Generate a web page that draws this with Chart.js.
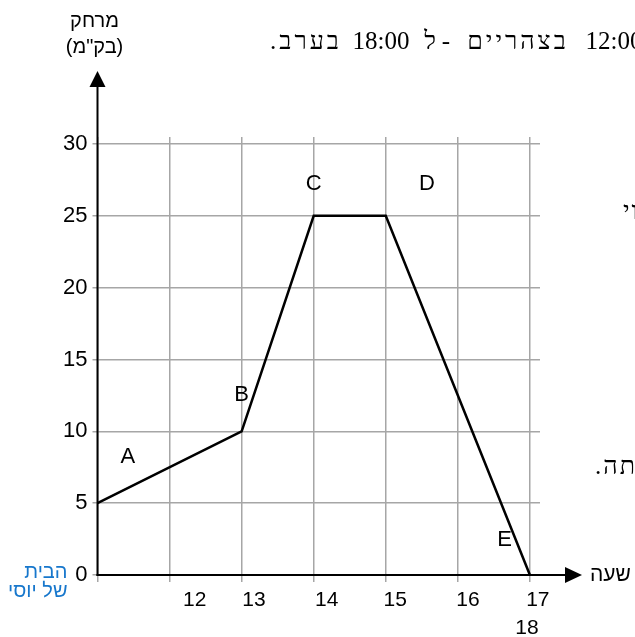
<!DOCTYPE html>
<html><head><meta charset="utf-8">
<style>html,body{margin:0;padding:0;background:#fff;overflow:hidden}canvas{display:block}</style>
<script src="https://cdn.jsdelivr.net/npm/chart.js@4.4.1/dist/chart.umd.min.js"></script>
</head><body>
<canvas id="c" width="635" height="637"></canvas>
<script>
// ---- data ----
const hours = [11, 13, 14, 15, 17];
const distances = [5, 10, 25, 25, 0];
const gridHours = [11, 12, 13, 14, 15, 16, 17];
const yTicks = [0, 5, 10, 15, 20, 25, 30];
const hourLabels = ['12', '13', '14', '15', '16', '17'];
const hourLabelAt = [12.35, 13.17, 14.18, 15.13, 16.14, 17.11];
const extraLabels = ['18'];
const extraLabelAt = [16.96];
const segmentNames = ['A', 'B', 'C', 'D', 'E'];
const segmentNameX = [11.42, 13.0, 14.0, 15.57, 16.65];
const segmentNameY = [8.2, 12.5, 27.2, 27.2, 2.45];
const yTitle = ['מרחק', '(בק"מ)'];
const xTitle = 'שעה';
const homeLabel = ['הבית', 'של יוסי'];
// cut-off words of the surrounding page text (centre x, direction)
const topWords = ['בערב.', '18:00', 'ל', '-', 'בצהריים', '12:00'];
const topWordCenter = [306, 381, 430, 446, 518, 614];
const topWordDir = ['rtl', 'ltr', 'ltr', 'ltr', 'rtl', 'ltr'];
const bodyMid = 'וי';
const bodyLow = 'הייתה.';

const SANS = '"Liberation Sans", Arial, "DejaVu Sans", sans-serif';
const SERIF = '"Liberation Serif", "DejaVu Serif", serif';
const X_MAX = 17.14;

const overlay = {
  id: 'overlay',
  afterDraw(chart) {
    const { ctx, chartArea, scales: { x, y } } = chart;
    const x0 = x.getPixelForValue(11);
    const y0 = y.getPixelForValue(0);
    ctx.save();
    // axes with arrows
    ctx.strokeStyle = '#000'; ctx.fillStyle = '#000'; ctx.lineWidth = 2;
    const yTip = chartArea.top - 73;
    const xTip = chartArea.right + 42;
    ctx.beginPath(); ctx.moveTo(x0, y0 + 1); ctx.lineTo(x0, yTip + 12); ctx.stroke();
    ctx.beginPath(); ctx.moveTo(x0, yTip); ctx.lineTo(x0 - 8, yTip + 16); ctx.lineTo(x0 + 8, yTip + 16); ctx.closePath(); ctx.fill();
    ctx.beginPath(); ctx.moveTo(x0 - 1, y0); ctx.lineTo(xTip - 12, y0); ctx.stroke();
    ctx.beginPath(); ctx.moveTo(xTip, y0); ctx.lineTo(xTip - 17, y0 - 8); ctx.lineTo(xTip - 17, y0 + 8); ctx.closePath(); ctx.fill();

    // axis titles
    ctx.direction = 'rtl';
    ctx.textBaseline = 'middle';
    ctx.font = '20px ' + SANS;
    ctx.textAlign = 'center';
    ctx.fillText(yTitle[0], x0 - 3, yTip - 50);
    ctx.fillText(yTitle[1], x0 - 3, yTip - 24);
    ctx.textAlign = 'left';
    ctx.font = '21px ' + SANS;
    ctx.fillText(xTitle, xTip + 8, y0);

    // home label (blue)
    ctx.fillStyle = '#1777cc';
    ctx.font = '20px ' + SANS;
    ctx.textAlign = 'right';
    ctx.fillText(homeLabel[0], x0 - 30, y0 - 3);
    ctx.fillText(homeLabel[1], x0 - 30, y0 + 16);

    // segment names
    ctx.direction = 'ltr';
    ctx.fillStyle = '#000';
    ctx.font = '22px ' + SANS;
    ctx.textAlign = 'center';
    segmentNames.forEach((n, i) => {
      ctx.fillText(n, x.getPixelForValue(segmentNameX[i]), y.getPixelForValue(segmentNameY[i]));
    });

    // cut-off body text of the page
    ctx.font = '25px ' + SERIF;
    ctx.textAlign = 'center';
    topWords.forEach((w, i) => {
      ctx.direction = topWordDir[i];
      ctx.letterSpacing = w.length > 2 && /[\u0590-\u05FF]/.test(w) ? '3px' : '0px';
      ctx.fillText(w, topWordCenter[i], 42);
    });
    ctx.textAlign = 'left';
    ctx.direction = 'rtl';
    ctx.letterSpacing = '2px';
    ctx.fillText(bodyMid, 623, 212);
    ctx.fillText(bodyLow, 595, 467);
    ctx.restore();
  }
};

const gridColor = '#a6a6a6';
new Chart(document.getElementById('c'), {
  type: 'line',
  data: {
    datasets: [{
      data: hours.map((h, i) => ({ x: h, y: distances[i] })),
      borderColor: '#000', borderWidth: 2.5, pointRadius: 0, tension: 0, fill: false, clip: false
    }]
  },
  options: {
    responsive: false, animation: false, devicePixelRatio: 1,
    layout: { padding: { left: 0, right: 95, top: 0, bottom: 0 } },
    plugins: { legend: { display: false }, tooltip: { enabled: false } },
    scales: {
      x: {
        type: 'linear', position: 'bottom', min: 11, max: X_MAX, weight: 0,
        afterBuildTicks: s => { s.ticks = gridHours.map(v => ({ value: v })); },
        afterFit: s => { s.height = 7; },
        ticks: { display: false },
        border: { display: false },
        grid: { color: gridColor, lineWidth: 1.5, tickLength: 7, drawTicks: true }
      },
      xLab: {
        type: 'linear', axis: 'x', position: 'bottom', min: 11, max: X_MAX, weight: 1,
        afterBuildTicks: s => { s.ticks = hourLabelAt.map(v => ({ value: v })); },
        afterFit: s => { s.height = 30; },
        ticks: { callback: (v, i) => hourLabels[i], color: '#000', font: { family: SANS, size: 21 }, padding: 6, autoSkip: false, maxRotation: 0 },
        grid: { display: false, drawTicks: false },
        border: { display: false }
      },
      xLab2: {
        type: 'linear', axis: 'x', position: 'bottom', min: 11, max: X_MAX, weight: 2,
        afterBuildTicks: s => { s.ticks = extraLabelAt.map(v => ({ value: v })); },
        afterFit: s => { s.height = 25; },
        ticks: { callback: (v, i) => extraLabels[i], color: '#000', font: { family: SANS, size: 21 }, padding: 4, autoSkip: false, maxRotation: 0 },
        grid: { display: false, drawTicks: false },
        border: { display: false }
      },
      xTop: {
        type: 'linear', axis: 'x', position: 'top', min: 11, max: X_MAX,
        afterBuildTicks: s => { s.ticks = gridHours.map(v => ({ value: v })); },
        afterFit: s => { s.height = 144; },
        ticks: { display: false },
        border: { display: false },
        grid: { color: gridColor, lineWidth: 1.5, tickLength: 7, drawTicks: true, drawOnChartArea: false }
      },
      y: {
        type: 'linear', position: 'left', min: 0, max: 30,
        afterBuildTicks: s => { s.ticks = yTicks.map(v => ({ value: v })); },
        afterFit: s => { s.width = 97.5; },
        ticks: { color: '#000', font: { family: SANS, size: 22 }, padding: 5 },
        border: { display: false },
        grid: { color: gridColor, lineWidth: 1.5, tickLength: 5, drawTicks: true }
      }
    }
  },
  plugins: [overlay]
});
</script>
</body></html>
